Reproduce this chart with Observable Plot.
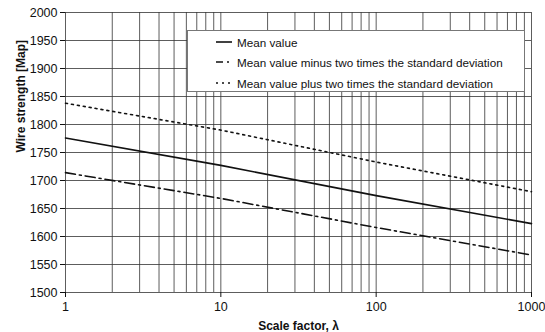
<!DOCTYPE html>
<html><head><meta charset="utf-8">
<script src="https://cdn.jsdelivr.net/npm/d3@7"></script>
<script src="https://cdn.jsdelivr.net/npm/@observablehq/plot@0.6"></script>
<style>
body{margin:0;background:#fff;font-family:"Liberation Sans",Arial,sans-serif;}
#wrap{position:relative;width:545px;height:332px;}
#legend{position:absolute;left:187px;top:30px;width:338px;height:62px;background:#fff;border:1px solid #777;box-sizing:border-box;font-size:11.7px;color:#111;}
.row{position:absolute;left:28px;height:14px;display:flex;align-items:center;}
.row svg{margin-right:5px;}
</style></head>
<body><div id="wrap"><div id="legend"></div></div>
<script>
const lambda = [1, 10, 100, 1000];
const meanVals = [1776, 1727, 1673, 1623];
const minusVals = [1714, 1668, 1616, 1567];
const plusVals = [1838, 1790, 1733, 1680];
const seriesNames = ["Mean value", "Mean value minus two times the standard deviation", "Mean value plus two times the standard deviation"];
const seriesDash = [null, "10,4,2,4", "2,4"];
const xTicks = [1, 10, 100, 1000];
const yTicks = [1500,1550,1600,1650,1700,1750,1800,1850,1900,1950,2000];

const xGrid = [];
for (let k = 0; k < 3; k++) for (let m = 1; m <= 9; m++) xGrid.push(m * 10 ** k);
xGrid.push(1000);

const valsList = [meanVals, minusVals, plusVals];
const rows = [];
valsList.forEach((vals, s) => vals.forEach((v, i) => rows.push({x: lambda[i], y: v, s})));

const chart = Plot.plot({
  width: 545, height: 332,
  marginLeft: 65, marginRight: 14, marginTop: 12, marginBottom: 40,
  style: {fontFamily: '"Liberation Sans",Arial,sans-serif', fontSize: "12.5px", color: "#111", background: "transparent"},
  x: {type: "log", domain: [1, 1000], ticks: xTicks, tickFormat: d => String(d), label: null},
  y: {domain: [1500, 2000], ticks: yTicks, tickFormat: d => String(d), label: null},
  marks: [
    Plot.ruleX(xGrid, {stroke: "#333", strokeWidth: 0.8}),
    Plot.ruleY(yTicks, {stroke: "#333", strokeWidth: 0.8}),
    Plot.axisY({ticks: yTicks, tickSize: 5, tickPadding: 3, tickFormat: d => String(d), label: null}),
    Plot.axisX({ticks: xTicks, tickSize: 5, tickPadding: 5, tickFormat: d => String(d), label: null}),
    ...valsList.map((vals, s) => Plot.line(rows.filter(r => r.s === s), {x: "x", y: "y", stroke: "#111", strokeWidth: 1.6, strokeDasharray: seriesDash[s]})),
    Plot.text(["Wire strength [Map]"], {frameAnchor: "left", dx: -44, rotate: -90, fontWeight: "bold", fontSize: 12}),
    Plot.text(["Scale factor, λ"], {frameAnchor: "bottom", dy: 37, fontWeight: "bold", fontSize: 12})
  ]
});
const wrap = document.getElementById("wrap");
wrap.insertBefore(chart, wrap.firstChild);

const legend = document.getElementById("legend");
const rowTops = [4, 24, 45];
seriesNames.forEach((name, i) => {
  const r = document.createElement("div");
  r.className = "row";
  r.style.top = rowTops[i] + "px";
  r.innerHTML = `<svg width="16" height="6"><line x1="0" y1="3" x2="16" y2="3" stroke="#111" stroke-width="1.6" ${seriesDash[i] ? `stroke-dasharray="${i===1?'7,4,2,4':'2,4'}"` : ""}/></svg><span>${name}</span>`;
  legend.appendChild(r);
});
</script></body></html>
